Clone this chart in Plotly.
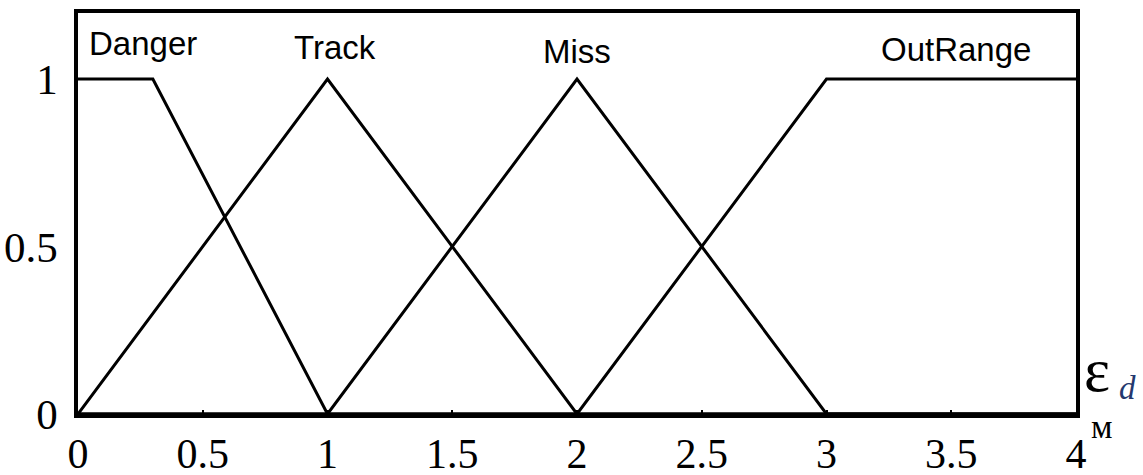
import plotly.graph_objects as go

# Membership functions of the distance error (breakpoints and degrees)
danger_x = [0, 0.3, 1, 4]
danger_y = [1, 1, 0, 0]
track_x = [0, 1, 2, 4]
track_y = [0, 1, 0, 0]
miss_x = [0, 1, 2, 3, 4]
miss_y = [0, 0, 1, 0, 0]
outrange_x = [0, 2, 3, 4]
outrange_y = [0, 0, 1, 1]

set_names = ["Danger", "Track", "Miss", "OutRange"]
name_x = [0.26, 1.03, 2.0, 3.52]
name_y = [1.107, 1.093, 1.081, 1.087]

x_ticks = [0, 0.5, 1, 1.5, 2, 2.5, 3, 3.5, 4]
x_ticktext = ["0", "0.5", "1", "1.5", "2", "2.5", "3", "3.5", "4"]
y_ticks = [0, 0.5, 1]
y_ticktext = ["0", "0.5", "1"]

fig = go.Figure()
for xs, ys in [(danger_x, danger_y), (track_x, track_y),
               (miss_x, miss_y), (outrange_x, outrange_y)]:
    fig.add_trace(go.Scatter(x=xs, y=ys, mode="lines",
                             line=dict(color="black", width=3),
                             showlegend=False, hoverinfo="skip"))

for name, nx, ny in zip(set_names, name_x, name_y):
    fig.add_annotation(x=nx, y=ny, xref="x", yref="y", text=name,
                       showarrow=False, xanchor="center", yanchor="middle",
                       font=dict(family="Liberation Sans, Arial", size=33, color="black"))

# Axis variable and unit, to the right of the frame
fig.add_annotation(x=1.0063, y=0.11, xref="paper", yref="paper", text="ε",
                   showarrow=False, xanchor="left", yanchor="middle",
                   font=dict(family="Liberation Serif", size=62, color="black"))
fig.add_annotation(x=1.0413, y=0.065, xref="paper", yref="paper",
                   text="<i>d</i>", showarrow=False, xanchor="left", yanchor="middle",
                   font=dict(family="Liberation Serif", size=33, color="#24386e"))
fig.add_annotation(x=1.0133, y=-0.03, xref="paper", yref="paper", text="м",
                   showarrow=False, xanchor="left", yanchor="middle",
                   font=dict(family="Liberation Serif", size=34, color="black"))

fig.update_xaxes(range=[0, 4], tickvals=x_ticks, ticktext=x_ticktext,
                 showline=True, linecolor="black", linewidth=3.5, mirror=True,
                 ticks="inside", ticklen=4, tickwidth=2, tickcolor="black",
                 showgrid=False, zeroline=False, ticklabelstandoff=0,
                 automargin=False,
                 tickfont=dict(family="Liberation Serif", size=42, color="black"))
fig.update_yaxes(range=[0, 1.197], tickvals=y_ticks, ticktext=y_ticktext,
                 showline=True, linecolor="black", linewidth=3.5, mirror=True,
                 ticks="", showgrid=False, zeroline=False, ticklabelstandoff=8,
                 automargin=False,
                 tickfont=dict(family="Liberation Serif", size=43, color="black"))

fig.update_layout(width=1143, height=475,
                  margin=dict(l=78, r=67, t=13, b=61),
                  plot_bgcolor="white", paper_bgcolor="white")

fig.write_html("out.html")
